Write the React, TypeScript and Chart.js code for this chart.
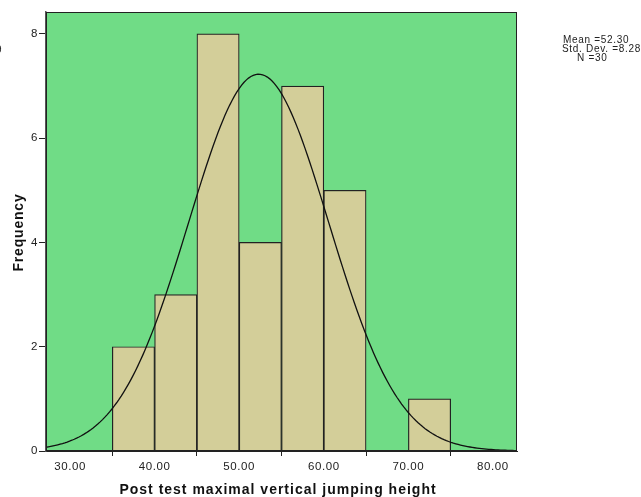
import React, { useEffect, useRef } from "react";
import { Chart, registerables } from "chart.js";

Chart.register(...registerables);

const binCenters = [37.5, 42.5, 47.5, 52.5, 57.5, 62.5, 67.5, 72.5];
const frequencies = [2, 3, 8, 4, 7, 5, 0, 1];
const xTicks = [30, 40, 50, 60, 70, 80];
const yTicks = [0, 2, 4, 6, 8];
const statMean = 52.3;
const statSd = 8.28;
const statN = 30;
const binWidth = 5;
const xMin = 27.16;
const xMax = 82.84;
const yMax = 8.42;
const xTitle = "Post test maximal vertical jumping height";
const yTitle = "Frequency";

const FONT = "'Liberation Sans', Arial, sans-serif";

const bgPlugin = {
  id: "plotBg",
  beforeDraw(chart: any) {
    const { ctx, chartArea } = chart;
    ctx.letterSpacing = "0.6px";
    ctx.save();
    ctx.fillStyle = "#70dc86";
    ctx.fillRect(chartArea.left, chartArea.top, chartArea.right - chartArea.left, chartArea.bottom - chartArea.top);
    ctx.restore();
  },
  afterDraw(chart: any) {
    const { ctx, chartArea } = chart;
    ctx.save();
    ctx.strokeStyle = "#222";
    ctx.lineWidth = 1;
    ctx.strokeRect(chartArea.left + 0.5, chartArea.top + 0.5, chartArea.right - chartArea.left - 1, chartArea.bottom - chartArea.top - 1);
    ctx.fillStyle = "#111";
    ctx.textAlign = "center";
    ctx.textBaseline = "alphabetic";
    ctx.font = `bold 14px ${FONT}`;
    ctx.letterSpacing = "1px";
    ctx.fillText(xTitle, 278, 494);
    ctx.translate(23, 232.5);
    ctx.rotate(-Math.PI / 2);
    ctx.letterSpacing = "0.8px";
    ctx.fillText(yTitle, 0, 0);
    ctx.restore();
  },
};

export default function App() {
  const ref = useRef<HTMLCanvasElement>(null);
  useEffect(() => {
    document.body.style.margin = "0";
    const curve: { x: number; y: number }[] = [];
    const steps = 200;
    for (let i = 0; i <= steps; i++) {
      const x = xMin + ((xMax - xMin) * i) / steps;
      const z = (x - statMean) / statSd;
      const y = ((statN * binWidth) / (statSd * Math.sqrt(2 * Math.PI))) * Math.exp(-0.5 * z * z);
      curve.push({ x, y });
    }
    const chart = new Chart(ref.current as HTMLCanvasElement, {
      type: "bar",
      data: {
        datasets: [
          {
            type: "line",
            data: curve,
            borderColor: "#111",
            borderWidth: 1.3,
            pointRadius: 0,
            fill: false,
            tension: 0,
            order: 0,
          } as any,
          {
            type: "bar",
            data: binCenters.map((c, i) => ({ x: c, y: frequencies[i] })),
            backgroundColor: "#d3ce99",
            borderColor: "#222",
            borderWidth: 1.2,
            categoryPercentage: 1,
            barPercentage: 1,
            order: 1,
          } as any,
        ],
      },
      options: {
        responsive: false,
        animation: false,
        layout: { padding: { left: 0, top: 12, right: 124, bottom: 0 } },
        plugins: { legend: { display: false }, tooltip: { enabled: false } },
        scales: {
          x: {
            type: "linear",
            min: xMin,
            max: xMax,
            offset: false,
            afterFit: (s: any) => { s.height = 46; },
            afterBuildTicks: (s: any) => { s.ticks = xTicks.map((v) => ({ value: v })); },
            grid: { display: true, drawOnChartArea: false, drawTicks: true, tickLength: 5, color: "#222" },
            border: { display: true, color: "#222" },
            ticks: {
              padding: 4,
              color: "#222",
              font: { family: FONT, size: 11.5 },
              callback: (v: any) => Number(v).toFixed(2),
              maxRotation: 0,
            },
            title: { display: false },
          },
          y: {
            type: "linear",
            min: 0,
            max: yMax,
            afterFit: (s: any) => { s.width = 46; },
            afterBuildTicks: (s: any) => { s.ticks = yTicks.map((v) => ({ value: v })); },
            grid: { display: true, drawOnChartArea: false, drawTicks: true, tickLength: 7, color: "#222" },
            border: { display: true, color: "#555", width: 1.5 },
            ticks: {
              padding: 1,
              color: "#222",
              font: { family: FONT, size: 11.5 },
              callback: (v: any) => String(v),
            },
            title: { display: false },
          },
        },
      },
      plugins: [bgPlugin],
    } as any);
    return () => chart.destroy();
  }, []);
  const statStyle: any = { position: "absolute", fontFamily: FONT, fontSize: 10, lineHeight: "9px", letterSpacing: "0.7px", color: "#222", whiteSpace: "nowrap" };
  return (
    <div style={{ position: "relative", width: 641, height: 497, background: "#fff", overflow: "hidden" }}>
      <canvas ref={ref} width={641} height={497} style={{ display: "block" }} />
      <div style={{ ...statStyle, left: -4, top: 45 }}>9</div>
      <div style={{ ...statStyle, left: 563, top: 35 }}>Mean ={statMean.toFixed(2)}</div>
      <div style={{ ...statStyle, left: 562, top: 44 }}>Std. Dev. ={statSd.toFixed(2)}</div>
      <div style={{ ...statStyle, left: 577, top: 53 }}>N ={statN}</div>
    </div>
  );
}
